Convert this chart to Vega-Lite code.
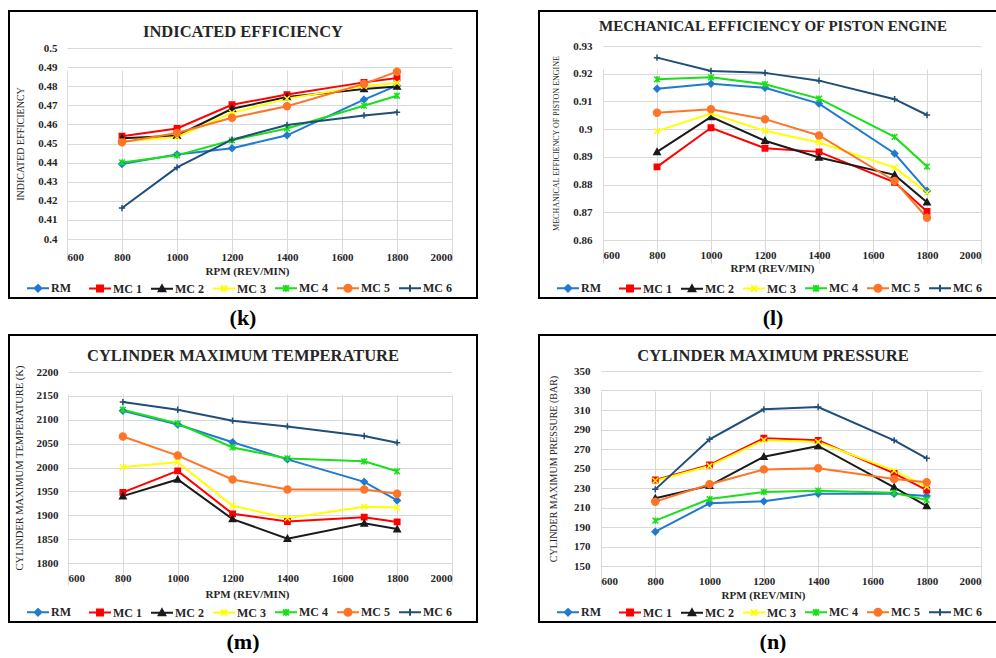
{
  "$schema": "https://vega.github.io/schema/vega-lite/v6.json",
  "padding": {"left": 8, "top": 10, "right": 0, "bottom": 0},
  "background": "white",
  "datasets": {
    "k": [
      {"s": "RM", "x": 800, "y": 0.4393}, {"s": "RM", "x": 1000, "y": 0.4443}, {"s": "RM", "x": 1200, "y": 0.4475}, {"s": "RM", "x": 1400, "y": 0.4543}, {"s": "RM", "x": 1680, "y": 0.4730}, {"s": "RM", "x": 1800, "y": 0.4803},
      {"s": "MC 1", "x": 800, "y": 0.4538}, {"s": "MC 1", "x": 1000, "y": 0.4579}, {"s": "MC 1", "x": 1200, "y": 0.4703}, {"s": "MC 1", "x": 1400, "y": 0.4756}, {"s": "MC 1", "x": 1680, "y": 0.4820}, {"s": "MC 1", "x": 1800, "y": 0.4843},
      {"s": "MC 2", "x": 800, "y": 0.4527}, {"s": "MC 2", "x": 1000, "y": 0.4541}, {"s": "MC 2", "x": 1200, "y": 0.4682}, {"s": "MC 2", "x": 1400, "y": 0.4743}, {"s": "MC 2", "x": 1680, "y": 0.4785}, {"s": "MC 2", "x": 1800, "y": 0.4799},
      {"s": "MC 3", "x": 800, "y": 0.4510}, {"s": "MC 3", "x": 1000, "y": 0.4534}, {"s": "MC 3", "x": 1200, "y": 0.4660}, {"s": "MC 3", "x": 1400, "y": 0.4735}, {"s": "MC 3", "x": 1680, "y": 0.4800}, {"s": "MC 3", "x": 1800, "y": 0.4817},
      {"s": "MC 4", "x": 800, "y": 0.4401}, {"s": "MC 4", "x": 1000, "y": 0.4438}, {"s": "MC 4", "x": 1200, "y": 0.4517}, {"s": "MC 4", "x": 1400, "y": 0.4579}, {"s": "MC 4", "x": 1680, "y": 0.4698}, {"s": "MC 4", "x": 1800, "y": 0.4750},
      {"s": "MC 5", "x": 800, "y": 0.4506}, {"s": "MC 5", "x": 1000, "y": 0.4555}, {"s": "MC 5", "x": 1200, "y": 0.4635}, {"s": "MC 5", "x": 1400, "y": 0.4695}, {"s": "MC 5", "x": 1680, "y": 0.4812}, {"s": "MC 5", "x": 1800, "y": 0.4876},
      {"s": "MC 6", "x": 800, "y": 0.4162}, {"s": "MC 6", "x": 1000, "y": 0.4375}, {"s": "MC 6", "x": 1200, "y": 0.4520}, {"s": "MC 6", "x": 1400, "y": 0.4597}, {"s": "MC 6", "x": 1680, "y": 0.4647}, {"s": "MC 6", "x": 1800, "y": 0.4663}
    ],
    "l": [
      {"s": "RM", "x": 800, "y": 0.9146}, {"s": "RM", "x": 1000, "y": 0.9164}, {"s": "RM", "x": 1200, "y": 0.9149}, {"s": "RM", "x": 1400, "y": 0.9092}, {"s": "RM", "x": 1680, "y": 0.8912}, {"s": "RM", "x": 1800, "y": 0.8778},
      {"s": "MC 1", "x": 800, "y": 0.8864}, {"s": "MC 1", "x": 1000, "y": 0.9005}, {"s": "MC 1", "x": 1200, "y": 0.8931}, {"s": "MC 1", "x": 1400, "y": 0.8918}, {"s": "MC 1", "x": 1680, "y": 0.8808}, {"s": "MC 1", "x": 1800, "y": 0.8703},
      {"s": "MC 2", "x": 800, "y": 0.8918}, {"s": "MC 2", "x": 1000, "y": 0.9044}, {"s": "MC 2", "x": 1200, "y": 0.8958}, {"s": "MC 2", "x": 1400, "y": 0.8898}, {"s": "MC 2", "x": 1680, "y": 0.8835}, {"s": "MC 2", "x": 1800, "y": 0.8736},
      {"s": "MC 3", "x": 800, "y": 0.8993}, {"s": "MC 3", "x": 1000, "y": 0.9056}, {"s": "MC 3", "x": 1200, "y": 0.8994}, {"s": "MC 3", "x": 1400, "y": 0.8952}, {"s": "MC 3", "x": 1680, "y": 0.8861}, {"s": "MC 3", "x": 1800, "y": 0.8771},
      {"s": "MC 4", "x": 800, "y": 0.9180}, {"s": "MC 4", "x": 1000, "y": 0.9187}, {"s": "MC 4", "x": 1200, "y": 0.9162}, {"s": "MC 4", "x": 1400, "y": 0.9110}, {"s": "MC 4", "x": 1680, "y": 0.8972}, {"s": "MC 4", "x": 1800, "y": 0.8865},
      {"s": "MC 5", "x": 800, "y": 0.9059}, {"s": "MC 5", "x": 1000, "y": 0.9072}, {"s": "MC 5", "x": 1200, "y": 0.9036}, {"s": "MC 5", "x": 1400, "y": 0.8977}, {"s": "MC 5", "x": 1680, "y": 0.8813}, {"s": "MC 5", "x": 1800, "y": 0.8680},
      {"s": "MC 6", "x": 800, "y": 0.9258}, {"s": "MC 6", "x": 1000, "y": 0.9210}, {"s": "MC 6", "x": 1200, "y": 0.9203}, {"s": "MC 6", "x": 1400, "y": 0.9175}, {"s": "MC 6", "x": 1680, "y": 0.9108}, {"s": "MC 6", "x": 1800, "y": 0.9051}
    ],
    "m": [
      {"s": "RM", "x": 800, "y": 2119}, {"s": "RM", "x": 1000, "y": 2090}, {"s": "RM", "x": 1200, "y": 2053}, {"s": "RM", "x": 1400, "y": 2017}, {"s": "RM", "x": 1680, "y": 1970}, {"s": "RM", "x": 1800, "y": 1931},
      {"s": "MC 1", "x": 800, "y": 1948}, {"s": "MC 1", "x": 1000, "y": 1993}, {"s": "MC 1", "x": 1200, "y": 1903}, {"s": "MC 1", "x": 1400, "y": 1887}, {"s": "MC 1", "x": 1680, "y": 1896}, {"s": "MC 1", "x": 1800, "y": 1886},
      {"s": "MC 2", "x": 800, "y": 1940}, {"s": "MC 2", "x": 1000, "y": 1975}, {"s": "MC 2", "x": 1200, "y": 1892}, {"s": "MC 2", "x": 1400, "y": 1851}, {"s": "MC 2", "x": 1680, "y": 1883}, {"s": "MC 2", "x": 1800, "y": 1871},
      {"s": "MC 3", "x": 800, "y": 2001}, {"s": "MC 3", "x": 1000, "y": 2011}, {"s": "MC 3", "x": 1200, "y": 1920}, {"s": "MC 3", "x": 1400, "y": 1894}, {"s": "MC 3", "x": 1680, "y": 1918}, {"s": "MC 3", "x": 1800, "y": 1916},
      {"s": "MC 4", "x": 800, "y": 2121}, {"s": "MC 4", "x": 1000, "y": 2092}, {"s": "MC 4", "x": 1200, "y": 2042}, {"s": "MC 4", "x": 1400, "y": 2019}, {"s": "MC 4", "x": 1680, "y": 2013}, {"s": "MC 4", "x": 1800, "y": 1992},
      {"s": "MC 5", "x": 800, "y": 2065}, {"s": "MC 5", "x": 1000, "y": 2025}, {"s": "MC 5", "x": 1200, "y": 1975}, {"s": "MC 5", "x": 1400, "y": 1954}, {"s": "MC 5", "x": 1680, "y": 1954}, {"s": "MC 5", "x": 1800, "y": 1945},
      {"s": "MC 6", "x": 800, "y": 2137}, {"s": "MC 6", "x": 1000, "y": 2121}, {"s": "MC 6", "x": 1200, "y": 2098}, {"s": "MC 6", "x": 1400, "y": 2086}, {"s": "MC 6", "x": 1680, "y": 2066}, {"s": "MC 6", "x": 1800, "y": 2052}
    ],
    "n": [
      {"s": "RM", "x": 800, "y": 185.2}, {"s": "RM", "x": 1000, "y": 214.3}, {"s": "RM", "x": 1200, "y": 216.3}, {"s": "RM", "x": 1400, "y": 224.2}, {"s": "RM", "x": 1680, "y": 224.2}, {"s": "RM", "x": 1800, "y": 221.8},
      {"s": "MC 1", "x": 800, "y": 238.2}, {"s": "MC 1", "x": 1000, "y": 253.6}, {"s": "MC 1", "x": 1200, "y": 281.0}, {"s": "MC 1", "x": 1400, "y": 278.9}, {"s": "MC 1", "x": 1680, "y": 245.0}, {"s": "MC 1", "x": 1800, "y": 227.9},
      {"s": "MC 2", "x": 800, "y": 219.4}, {"s": "MC 2", "x": 1000, "y": 232.4}, {"s": "MC 2", "x": 1200, "y": 262.1}, {"s": "MC 2", "x": 1400, "y": 273.1}, {"s": "MC 2", "x": 1680, "y": 230.7}, {"s": "MC 2", "x": 1800, "y": 211.5},
      {"s": "MC 3", "x": 800, "y": 237.5}, {"s": "MC 3", "x": 1000, "y": 252.6}, {"s": "MC 3", "x": 1200, "y": 279.2}, {"s": "MC 3", "x": 1400, "y": 277.2}, {"s": "MC 3", "x": 1680, "y": 247.8}, {"s": "MC 3", "x": 1800, "y": 231.4},
      {"s": "MC 4", "x": 800, "y": 196.5}, {"s": "MC 4", "x": 1000, "y": 218.7}, {"s": "MC 4", "x": 1200, "y": 225.9}, {"s": "MC 4", "x": 1400, "y": 227.3}, {"s": "MC 4", "x": 1680, "y": 225.2}, {"s": "MC 4", "x": 1800, "y": 217.7},
      {"s": "MC 5", "x": 800, "y": 216.0}, {"s": "MC 5", "x": 1000, "y": 233.8}, {"s": "MC 5", "x": 1200, "y": 249.1}, {"s": "MC 5", "x": 1400, "y": 250.2}, {"s": "MC 5", "x": 1680, "y": 239.2}, {"s": "MC 5", "x": 1800, "y": 235.8},
      {"s": "MC 6", "x": 800, "y": 228.6}, {"s": "MC 6", "x": 1000, "y": 279.9}, {"s": "MC 6", "x": 1200, "y": 310.7}, {"s": "MC 6", "x": 1400, "y": 313.1}, {"s": "MC 6", "x": 1680, "y": 278.9}, {"s": "MC 6", "x": 1800, "y": 260.4}
    ]
  },
  "concat": [
    {
      "vconcat": [
        {
          "width": 468, "height": 287,
          "title": {"text": "INDICATED EFFICIENCY", "offset": -29, "fontSize": 16.5},
          "data": {"name": "k"},
          "encoding": {
            "x": {"field": "x", "type": "quantitative", "scale": {"domain": [600, 2000], "range": [58, 443], "nice": false, "zero": false},
                  "axis": {"orient": "bottom", "offset": -59, "values": [600, 800, 1000, 1200, 1400, 1600, 1800, 2000], "format": "d", "labelPadding": 12, "title": "RPM (REV/MIN)", "titlePadding": 3, "titleX": 238, "titleFontWeight": "bold", "titleFontSize": 11}},
            "y": {"field": "y", "type": "quantitative", "scale": {"domain": [0.4, 0.5], "range": [228, 37], "nice": false, "zero": false},
                  "axis": {"orient": "left", "offset": -58, "values": [0.4, 0.41, 0.42, 0.43, 0.44, 0.45, 0.46, 0.47, 0.48, 0.49, 0.5], "format": "~g", "labelPadding": 10, "title": "INDICATED EFFICIENCY", "titlePadding": 12, "titleFontSize": 10}}
          },
          "layer": [
            {"mark": {"type": "line", "strokeWidth": 2},
             "encoding": {"color": {"field": "s", "type": "nominal", "scale": {"domain": ["RM", "MC 1", "MC 2", "MC 3", "MC 4", "MC 5", "MC 6"], "range": ["#1f7ad0", "#ff0000", "#1a1a1a", "#ffff00", "#19e019", "#ff7426", "#1f4e79"]}, "legend": null}}},
            {"mark": {"type": "point", "filled": true, "size": 40, "strokeWidth": 1.5, "opacity": 1},
             "encoding": {
               "color": {"field": "s", "type": "nominal", "scale": {"domain": ["RM", "MC 1", "MC 2", "MC 3", "MC 4", "MC 5", "MC 6"], "range": ["#1f7ad0", "#ff0000", "#1a1a1a", "#ffff00", "#19e019", "#ff7426", "#1f4e79"]}, "legend": null},
               "stroke": {"field": "s", "type": "nominal", "scale": {"domain": ["RM", "MC 1", "MC 2", "MC 3", "MC 4", "MC 5", "MC 6"], "range": ["#1f7ad0", "#ff0000", "#1a1a1a", "#ffff00", "#19e019", "#ff7426", "#1f4e79"]}, "legend": null},
               "shape": {"field": "s", "type": "nominal", "scale": {"domain": ["RM", "MC 1", "MC 2", "MC 3", "MC 4", "MC 5", "MC 6"], "range": ["M0,-1L1,0L0,1L-1,0Z", "M-0.85,-0.85H0.85V0.85H-0.85Z", "M0,-1L1,0.8H-1Z", "M-0.9,-0.9L0.9,0.9M-0.9,0.9L0.9,-0.9", "M-0.9,-0.9L0.9,0.9M-0.9,0.9L0.9,-0.9M0,-1V1", "M-1.1,0A1.1,1.1 0 1,0 1.1,0A1.1,1.1 0 1,0 -1.1,0Z", "M-1,0H1M0,-1V1"]}, "legend": null}
             }},
            {"transform": [{"filter": "false"}],
             "mark": {"type": "point", "filled": true, "size": 484, "strokeWidth": 2, "opacity": 1},
             "encoding": {
               "color": {"field": "s", "type": "nominal", "scale": {"domain": ["RM", "MC 1", "MC 2", "MC 3", "MC 4", "MC 5", "MC 6"], "range": ["#1f7ad0", "#ff0000", "#1a1a1a", "#ffff00", "#19e019", "#ff7426", "#1f4e79"]}, "legend": {"title": null}},
               "stroke": {"field": "s", "type": "nominal", "scale": {"domain": ["RM", "MC 1", "MC 2", "MC 3", "MC 4", "MC 5", "MC 6"], "range": ["#1f7ad0", "#ff0000", "#1a1a1a", "#ffff00", "#19e019", "#ff7426", "#1f4e79"]}, "legend": {"title": null}},
               "shape": {"field": "s", "type": "nominal", "scale": {"domain": ["RM", "MC 1", "MC 2", "MC 3", "MC 4", "MC 5", "MC 6"], "range": ["M-1,0H1M0,-0.3L0.3,0L0,0.3L-0.3,0Z", "M-1,0H1M-0.27,-0.27H0.27V0.27H-0.27Z", "M-1,0H1M0,-0.3L0.3,0.24H-0.3Z", "M-1,0H1M-0.27,-0.27L0.27,0.27M-0.27,0.27L0.27,-0.27", "M-1,0H1M-0.27,-0.27L0.27,0.27M-0.27,0.27L0.27,-0.27M0,-0.3V0.3", "M-1,0H1M-0.32,0A0.32,0.32 0 1,0 0.32,0A0.32,0.32 0 1,0 -0.32,0Z", "M-1,0H1M0,-0.32V0.32"]}, "legend": {"title": null}}
             }}
          ],
          "resolve": {"scale": {"color": "independent", "stroke": "independent", "shape": "independent"}}
        }
      ],
      "title": {"text": "(k)", "orient": "bottom", "offset": 9, "fontSize": 22, "frame": "bounds", "anchor": "middle", "color": "#000000"}
    },
    {
      "vconcat": [
        {
          "width": 468, "height": 287,
          "title": {"text": "MECHANICAL EFFICIENCY OF PISTON ENGINE", "offset": -23, "fontSize": 15},
          "data": {"name": "l"},
          "encoding": {
            "x": {"field": "x", "type": "quantitative", "scale": {"domain": [600, 2000], "range": [64, 442], "nice": false, "zero": false},
                  "axis": {"orient": "bottom", "offset": -58, "values": [600, 800, 1000, 1200, 1400, 1600, 1800, 2000], "format": "d", "labelPadding": 9, "title": "RPM (REV/MIN)", "titlePadding": 2, "titleX": 233, "titleFontWeight": "bold", "titleFontSize": 11}},
            "y": {"field": "y", "type": "quantitative", "scale": {"domain": [0.86, 0.93], "range": [229, 35], "nice": false, "zero": false},
                  "axis": {"orient": "left", "offset": -64, "values": [0.86, 0.87, 0.88, 0.89, 0.9, 0.91, 0.92, 0.93], "format": "~g", "labelPadding": 11, "title": "MECHANICAL EFFICIENCY OF PISTON ENGINE", "titlePadding": 12, "titleFontSize": 8}}
          },
          "layer": [
            {"mark": {"type": "line", "strokeWidth": 2},
             "encoding": {"color": {"field": "s", "type": "nominal", "scale": {"domain": ["RM", "MC 1", "MC 2", "MC 3", "MC 4", "MC 5", "MC 6"], "range": ["#1f7ad0", "#ff0000", "#1a1a1a", "#ffff00", "#19e019", "#ff7426", "#1f4e79"]}, "legend": null}}},
            {"mark": {"type": "point", "filled": true, "size": 40, "strokeWidth": 1.5, "opacity": 1},
             "encoding": {
               "color": {"field": "s", "type": "nominal", "scale": {"domain": ["RM", "MC 1", "MC 2", "MC 3", "MC 4", "MC 5", "MC 6"], "range": ["#1f7ad0", "#ff0000", "#1a1a1a", "#ffff00", "#19e019", "#ff7426", "#1f4e79"]}, "legend": null},
               "stroke": {"field": "s", "type": "nominal", "scale": {"domain": ["RM", "MC 1", "MC 2", "MC 3", "MC 4", "MC 5", "MC 6"], "range": ["#1f7ad0", "#ff0000", "#1a1a1a", "#ffff00", "#19e019", "#ff7426", "#1f4e79"]}, "legend": null},
               "shape": {"field": "s", "type": "nominal", "scale": {"domain": ["RM", "MC 1", "MC 2", "MC 3", "MC 4", "MC 5", "MC 6"], "range": ["M0,-1L1,0L0,1L-1,0Z", "M-0.85,-0.85H0.85V0.85H-0.85Z", "M0,-1L1,0.8H-1Z", "M-0.9,-0.9L0.9,0.9M-0.9,0.9L0.9,-0.9", "M-0.9,-0.9L0.9,0.9M-0.9,0.9L0.9,-0.9M0,-1V1", "M-1.1,0A1.1,1.1 0 1,0 1.1,0A1.1,1.1 0 1,0 -1.1,0Z", "M-1,0H1M0,-1V1"]}, "legend": null}
             }},
            {"transform": [{"filter": "false"}],
             "mark": {"type": "point", "filled": true, "size": 484, "strokeWidth": 2, "opacity": 1},
             "encoding": {
               "color": {"field": "s", "type": "nominal", "scale": {"domain": ["RM", "MC 1", "MC 2", "MC 3", "MC 4", "MC 5", "MC 6"], "range": ["#1f7ad0", "#ff0000", "#1a1a1a", "#ffff00", "#19e019", "#ff7426", "#1f4e79"]}, "legend": {"title": null}},
               "stroke": {"field": "s", "type": "nominal", "scale": {"domain": ["RM", "MC 1", "MC 2", "MC 3", "MC 4", "MC 5", "MC 6"], "range": ["#1f7ad0", "#ff0000", "#1a1a1a", "#ffff00", "#19e019", "#ff7426", "#1f4e79"]}, "legend": {"title": null}},
               "shape": {"field": "s", "type": "nominal", "scale": {"domain": ["RM", "MC 1", "MC 2", "MC 3", "MC 4", "MC 5", "MC 6"], "range": ["M-1,0H1M0,-0.3L0.3,0L0,0.3L-0.3,0Z", "M-1,0H1M-0.27,-0.27H0.27V0.27H-0.27Z", "M-1,0H1M0,-0.3L0.3,0.24H-0.3Z", "M-1,0H1M-0.27,-0.27L0.27,0.27M-0.27,0.27L0.27,-0.27", "M-1,0H1M-0.27,-0.27L0.27,0.27M-0.27,0.27L0.27,-0.27M0,-0.3V0.3", "M-1,0H1M-0.32,0A0.32,0.32 0 1,0 0.32,0A0.32,0.32 0 1,0 -0.32,0Z", "M-1,0H1M0,-0.32V0.32"]}, "legend": {"title": null}}
             }}
          ],
          "resolve": {"scale": {"color": "independent", "stroke": "independent", "shape": "independent"}}
        }
      ],
      "title": {"text": "(l)", "orient": "bottom", "offset": 9, "fontSize": 22, "frame": "bounds", "anchor": "middle", "color": "#000000"}
    },
    {
      "vconcat": [
        {
          "width": 468, "height": 287,
          "title": {"text": "CYLINDER MAXIMUM TEMPERATURE", "offset": -29, "fontSize": 16.5},
          "data": {"name": "m"},
          "encoding": {
            "x": {"field": "x", "type": "quantitative", "scale": {"domain": [600, 2000], "range": [59, 443], "nice": false, "zero": false},
                  "axis": {"orient": "bottom", "offset": -59, "values": [600, 800, 1000, 1200, 1400, 1600, 1800, 2000], "format": "d", "labelPadding": 9, "title": "RPM (REV/MIN)", "titlePadding": 5, "titleX": 238, "titleFontWeight": "bold", "titleFontSize": 11}},
            "y": {"field": "y", "type": "quantitative", "scale": {"domain": [1800, 2200], "range": [228, 37], "nice": false, "zero": false},
                  "axis": {"orient": "left", "offset": -59, "values": [1800, 1850, 1900, 1950, 2000, 2050, 2100, 2150, 2200], "format": "d", "labelPadding": 10, "title": "CYLINDER MAXIMUM TEMPERATURE (K)", "titlePadding": 12, "titleFontSize": 10.5}}
          },
          "layer": [
            {"mark": {"type": "line", "strokeWidth": 2},
             "encoding": {"color": {"field": "s", "type": "nominal", "scale": {"domain": ["RM", "MC 1", "MC 2", "MC 3", "MC 4", "MC 5", "MC 6"], "range": ["#1f7ad0", "#ff0000", "#1a1a1a", "#ffff00", "#19e019", "#ff7426", "#1f4e79"]}, "legend": null}}},
            {"mark": {"type": "point", "filled": true, "size": 40, "strokeWidth": 1.5, "opacity": 1},
             "encoding": {
               "color": {"field": "s", "type": "nominal", "scale": {"domain": ["RM", "MC 1", "MC 2", "MC 3", "MC 4", "MC 5", "MC 6"], "range": ["#1f7ad0", "#ff0000", "#1a1a1a", "#ffff00", "#19e019", "#ff7426", "#1f4e79"]}, "legend": null},
               "stroke": {"field": "s", "type": "nominal", "scale": {"domain": ["RM", "MC 1", "MC 2", "MC 3", "MC 4", "MC 5", "MC 6"], "range": ["#1f7ad0", "#ff0000", "#1a1a1a", "#ffff00", "#19e019", "#ff7426", "#1f4e79"]}, "legend": null},
               "shape": {"field": "s", "type": "nominal", "scale": {"domain": ["RM", "MC 1", "MC 2", "MC 3", "MC 4", "MC 5", "MC 6"], "range": ["M0,-1L1,0L0,1L-1,0Z", "M-0.85,-0.85H0.85V0.85H-0.85Z", "M0,-1L1,0.8H-1Z", "M-0.9,-0.9L0.9,0.9M-0.9,0.9L0.9,-0.9", "M-0.9,-0.9L0.9,0.9M-0.9,0.9L0.9,-0.9M0,-1V1", "M-1.1,0A1.1,1.1 0 1,0 1.1,0A1.1,1.1 0 1,0 -1.1,0Z", "M-1,0H1M0,-1V1"]}, "legend": null}
             }},
            {"transform": [{"filter": "false"}],
             "mark": {"type": "point", "filled": true, "size": 484, "strokeWidth": 2, "opacity": 1},
             "encoding": {
               "color": {"field": "s", "type": "nominal", "scale": {"domain": ["RM", "MC 1", "MC 2", "MC 3", "MC 4", "MC 5", "MC 6"], "range": ["#1f7ad0", "#ff0000", "#1a1a1a", "#ffff00", "#19e019", "#ff7426", "#1f4e79"]}, "legend": {"title": null}},
               "stroke": {"field": "s", "type": "nominal", "scale": {"domain": ["RM", "MC 1", "MC 2", "MC 3", "MC 4", "MC 5", "MC 6"], "range": ["#1f7ad0", "#ff0000", "#1a1a1a", "#ffff00", "#19e019", "#ff7426", "#1f4e79"]}, "legend": {"title": null}},
               "shape": {"field": "s", "type": "nominal", "scale": {"domain": ["RM", "MC 1", "MC 2", "MC 3", "MC 4", "MC 5", "MC 6"], "range": ["M-1,0H1M0,-0.3L0.3,0L0,0.3L-0.3,0Z", "M-1,0H1M-0.27,-0.27H0.27V0.27H-0.27Z", "M-1,0H1M0,-0.3L0.3,0.24H-0.3Z", "M-1,0H1M-0.27,-0.27L0.27,0.27M-0.27,0.27L0.27,-0.27", "M-1,0H1M-0.27,-0.27L0.27,0.27M-0.27,0.27L0.27,-0.27M0,-0.3V0.3", "M-1,0H1M-0.32,0A0.32,0.32 0 1,0 0.32,0A0.32,0.32 0 1,0 -0.32,0Z", "M-1,0H1M0,-0.32V0.32"]}, "legend": {"title": null}}
             }}
          ],
          "resolve": {"scale": {"color": "independent", "stroke": "independent", "shape": "independent"}}
        }
      ],
      "title": {"text": "(m)", "orient": "bottom", "offset": 9, "fontSize": 22, "frame": "bounds", "anchor": "middle", "color": "#000000"}
    },
    {
      "vconcat": [
        {
          "width": 468, "height": 287,
          "title": {"text": "CYLINDER MAXIMUM PRESSURE", "offset": -29, "fontSize": 16.5},
          "data": {"name": "n"},
          "encoding": {
            "x": {"field": "x", "type": "quantitative", "scale": {"domain": [600, 2000], "range": [62, 442], "nice": false, "zero": false},
                  "axis": {"orient": "bottom", "offset": -56, "values": [600, 800, 1000, 1200, 1400, 1600, 1800, 2000], "format": "d", "labelPadding": 9, "title": "RPM (REV/MIN)", "titlePadding": 3, "titleX": 224, "titleFontWeight": "bold", "titleFontSize": 11}},
            "y": {"field": "y", "type": "quantitative", "scale": {"domain": [150, 350], "range": [231, 36], "nice": false, "zero": false},
                  "axis": {"orient": "left", "offset": -62, "values": [150, 170, 190, 210, 230, 250, 270, 290, 310, 330, 350], "format": "d", "labelPadding": 11, "title": "CYLINDER MAXIMUM PRESSURE (BAR)", "titlePadding": 15, "titleFontSize": 10}}
          },
          "layer": [
            {"mark": {"type": "line", "strokeWidth": 2},
             "encoding": {"color": {"field": "s", "type": "nominal", "scale": {"domain": ["RM", "MC 1", "MC 2", "MC 3", "MC 4", "MC 5", "MC 6"], "range": ["#1f7ad0", "#ff0000", "#1a1a1a", "#ffff00", "#19e019", "#ff7426", "#1f4e79"]}, "legend": null}}},
            {"mark": {"type": "point", "filled": true, "size": 40, "strokeWidth": 1.5, "opacity": 1},
             "encoding": {
               "color": {"field": "s", "type": "nominal", "scale": {"domain": ["RM", "MC 1", "MC 2", "MC 3", "MC 4", "MC 5", "MC 6"], "range": ["#1f7ad0", "#ff0000", "#1a1a1a", "#ffff00", "#19e019", "#ff7426", "#1f4e79"]}, "legend": null},
               "stroke": {"field": "s", "type": "nominal", "scale": {"domain": ["RM", "MC 1", "MC 2", "MC 3", "MC 4", "MC 5", "MC 6"], "range": ["#1f7ad0", "#ff0000", "#1a1a1a", "#ffff00", "#19e019", "#ff7426", "#1f4e79"]}, "legend": null},
               "shape": {"field": "s", "type": "nominal", "scale": {"domain": ["RM", "MC 1", "MC 2", "MC 3", "MC 4", "MC 5", "MC 6"], "range": ["M0,-1L1,0L0,1L-1,0Z", "M-0.85,-0.85H0.85V0.85H-0.85Z", "M0,-1L1,0.8H-1Z", "M-0.9,-0.9L0.9,0.9M-0.9,0.9L0.9,-0.9", "M-0.9,-0.9L0.9,0.9M-0.9,0.9L0.9,-0.9M0,-1V1", "M-1.1,0A1.1,1.1 0 1,0 1.1,0A1.1,1.1 0 1,0 -1.1,0Z", "M-1,0H1M0,-1V1"]}, "legend": null}
             }},
            {"transform": [{"filter": "false"}],
             "mark": {"type": "point", "filled": true, "size": 484, "strokeWidth": 2, "opacity": 1},
             "encoding": {
               "color": {"field": "s", "type": "nominal", "scale": {"domain": ["RM", "MC 1", "MC 2", "MC 3", "MC 4", "MC 5", "MC 6"], "range": ["#1f7ad0", "#ff0000", "#1a1a1a", "#ffff00", "#19e019", "#ff7426", "#1f4e79"]}, "legend": {"title": null}},
               "stroke": {"field": "s", "type": "nominal", "scale": {"domain": ["RM", "MC 1", "MC 2", "MC 3", "MC 4", "MC 5", "MC 6"], "range": ["#1f7ad0", "#ff0000", "#1a1a1a", "#ffff00", "#19e019", "#ff7426", "#1f4e79"]}, "legend": {"title": null}},
               "shape": {"field": "s", "type": "nominal", "scale": {"domain": ["RM", "MC 1", "MC 2", "MC 3", "MC 4", "MC 5", "MC 6"], "range": ["M-1,0H1M0,-0.3L0.3,0L0,0.3L-0.3,0Z", "M-1,0H1M-0.27,-0.27H0.27V0.27H-0.27Z", "M-1,0H1M0,-0.3L0.3,0.24H-0.3Z", "M-1,0H1M-0.27,-0.27L0.27,0.27M-0.27,0.27L0.27,-0.27", "M-1,0H1M-0.27,-0.27L0.27,0.27M-0.27,0.27L0.27,-0.27M0,-0.3V0.3", "M-1,0H1M-0.32,0A0.32,0.32 0 1,0 0.32,0A0.32,0.32 0 1,0 -0.32,0Z", "M-1,0H1M0,-0.32V0.32"]}, "legend": {"title": null}}
             }}
          ],
          "resolve": {"scale": {"color": "independent", "stroke": "independent", "shape": "independent"}}
        }
      ],
      "title": {"text": "(n)", "orient": "bottom", "offset": 9, "fontSize": 22, "frame": "bounds", "anchor": "middle", "color": "#000000"}
    }
  ],
  "columns": 2,
  "spacing": {"row": 5, "column": 60},
  "config": {
    "view": {"stroke": "#000000", "strokeWidth": 2, "fill": "white"},
    "font": "Liberation Serif",
    "axis": {
      "labelFont": "Liberation Serif", "labelFontSize": 11, "labelFontWeight": "bold", "labelColor": "#262626",
      "titleFont": "Liberation Serif", "titleFontWeight": "normal", "titleColor": "#262626",
      "grid": true, "gridColor": "#d9d9d9", "gridWidth": 1, "domain": false, "ticks": false
    },
    "legend": {
      "orient": "none", "legendX": 17, "legendY": 265, "direction": "horizontal", "columns": 7, "gridAlign": "all",
      "columnPadding": 5, "rowPadding": 0, "padding": 0, "symbolSize": 484, "symbolStrokeWidth": 2,
      "labelFont": "Liberation Serif", "labelFontSize": 12, "labelFontWeight": "bold", "labelColor": "#262626", "labelOffset": 1
    },
    "title": {"font": "Liberation Serif", "fontWeight": "bold", "color": "#262626", "anchor": "middle", "frame": "group"}
  }
}
